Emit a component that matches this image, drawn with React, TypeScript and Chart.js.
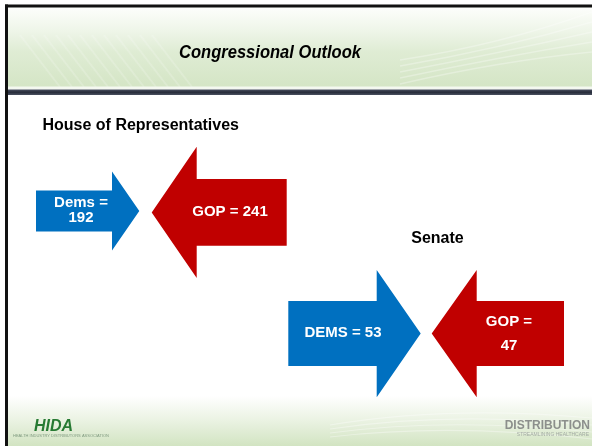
import React, { useEffect, useRef } from "react";
import { Chart, registerables } from "chart.js";

Chart.register(...registerables);

// ---- data ----
const chambers = ["House of Representatives", "Senate"];
const parties = ["Dems", "GOP", "DEMS", "GOP"];
const seats = [192, 241, 53, 47];
const chamberOfArrow = [0, 0, 1, 1];
const slideTitle = "Congressional Outlook";

// ---- layout (slide units) ----
const W = 592;
const H = 446;
const ARROW_LAYOUT = [
  { tipX: 139.3, tipY: 211, dir: 1, headLen: 27.3, bodyLen: 76, bodyH: 41, headH: 79, textX: 81, textY: 203, wrap: true, gap: 15 },
  { tipX: 151.7, tipY: 212.4, dir: -1, headLen: 45, bodyLen: 90, bodyH: 66.7, headH: 131.3, textX: 230, textY: 211.7, wrap: false, gap: 0 },
  { tipX: 420.7, tipY: 333.6, dir: 1, headLen: 44, bodyLen: 88.4, bodyH: 65, headH: 127.3, textX: 343, textY: 333.3, wrap: false, gap: 0 },
  { tipX: 431.7, tipY: 333.6, dir: -1, headLen: 45, bodyLen: 87.3, bodyH: 65, headH: 127.3, textX: 509, textY: 321.7, wrap: true, gap: 24.3 },
];
const CHAMBER_LAYOUT = [
  { x: 42.5, y: 130.3, align: "left" },
  { x: 437.5, y: 242.8, align: "center" },
];
const PARTY_COLORS = ["#0070C0", "#C00000", "#0070C0", "#C00000"];
const FONT = "'Liberation Sans', Arial, sans-serif";

const slidePlugin = {
  id: "slide",
  beforeDraw(chart: any) {
    const ctx = chart.ctx;
    const xs = chart.scales.x;
    const ys = chart.scales.y;
    const X = (v: number) => xs.getPixelForValue(v);
    const Y = (v: number) => ys.getPixelForValue(v);
    ctx.save();
    ctx.fillStyle = "#ffffff";
    ctx.fillRect(0, 0, chart.width, chart.height);

    // header band
    const hg = ctx.createLinearGradient(0, Y(7), 0, Y(88));
    hg.addColorStop(0, "#fdfefc");
    hg.addColorStop(0.3, "#eef5e8");
    hg.addColorStop(0.55, "#dfecd4");
    hg.addColorStop(1, "#d4e5c5");
    ctx.fillStyle = hg;
    ctx.fillRect(X(8), Y(7), X(W) - X(8), Y(87) - Y(7));
    // faint streaks
    ctx.strokeStyle = "rgba(255,255,255,0.18)";
    ctx.lineWidth = 2;
    for (let i = 0; i < 12; i++) {
      ctx.beginPath();
      ctx.moveTo(X(20 + i * 12), Y(35));
      ctx.lineTo(X(60 + i * 12), Y(87));
      ctx.stroke();
    }
    ctx.strokeStyle = "rgba(255,255,255,0.3)";
    ctx.lineWidth = 1.5;
    for (let i = 0; i < 5; i++) {
      ctx.beginPath();
      ctx.moveTo(X(400), Y(60 + i * 6));
      ctx.quadraticCurveTo(X(500), Y(45 + i * 4), X(W), Y(12 + i * 10));
      ctx.stroke();
    }
    ctx.fillStyle = "#f4f8f0";
    ctx.fillRect(X(8), Y(86.5), X(W) - X(8), Y(89.5) - Y(86.5));
    const dg = ctx.createLinearGradient(0, Y(89.5), 0, Y(95));
    dg.addColorStop(0, "#4a5060");
    dg.addColorStop(0.5, "#262b3a");
    dg.addColorStop(1, "#4a5060");
    ctx.fillStyle = dg;
    ctx.fillRect(X(5), Y(89.5), X(W) - X(5), Y(95) - Y(89.5));

    // footer band
    const fg = ctx.createLinearGradient(0, Y(396), 0, Y(H));
    fg.addColorStop(0, "#ffffff");
    fg.addColorStop(0.5, "#eaf2e2");
    fg.addColorStop(1, "#d2e4c2");
    ctx.fillStyle = fg;
    ctx.fillRect(X(8), Y(396), X(W) - X(8), Y(H) - Y(396));
    ctx.strokeStyle = "rgba(255,255,255,0.35)";
    ctx.lineWidth = 1.2;
    for (let i = 0; i < 4; i++) {
      ctx.beginPath();
      ctx.moveTo(X(330), Y(425 + i * 4));
      ctx.quadraticCurveTo(X(450), Y(405 + i * 6), X(W), Y(418 + i * 7));
      ctx.stroke();
    }

    // frame
    ctx.fillStyle = "#111111";
    ctx.fillRect(X(5), Y(4.5), X(W) - X(5), Y(7.5) - Y(4.5));
    ctx.fillRect(X(5), Y(4.5), X(8) - X(5), Y(H) - Y(4.5));

    // slide title
    ctx.fillStyle = "#000000";
    ctx.font = `bold italic 18px ${FONT}`;
    ctx.textBaseline = "alphabetic";
    ctx.textAlign = "center";
    const tw = ctx.measureText(slideTitle).width;
    const sx = 182 / tw;
    ctx.save();
    ctx.translate(X(270), Y(58));
    ctx.scale(sx, 1);
    ctx.fillText(slideTitle, 0, 0);
    ctx.restore();

    // footer logos
    ctx.fillStyle = "#277a33";
    ctx.font = `bold italic 16px ${FONT}`;
    ctx.textAlign = "left";
    ctx.fillText("HIDA", X(34), Y(431));
    ctx.fillStyle = "#7f9a7f";
    ctx.font = `4px ${FONT}`;
    ctx.fillText("HEALTH INDUSTRY DISTRIBUTORS ASSOCIATION", X(13), Y(437));
    ctx.fillStyle = "#8c8f8c";
    ctx.font = `bold 12px ${FONT}`;
    ctx.textAlign = "right";
    ctx.fillText("DISTRIBUTION", X(590), Y(429));
    ctx.fillStyle = "#a4aba4";
    ctx.font = `5px ${FONT}`;
    ctx.fillText("STREAMLINING HEALTHCARE", X(589), Y(436));
    ctx.restore();
  },
  afterDatasetsDraw(chart: any) {
    const ctx = chart.ctx;
    const xs = chart.scales.x;
    const ys = chart.scales.y;
    const ux = Math.abs(xs.getPixelForValue(1) - xs.getPixelForValue(0));
    const uy = Math.abs(ys.getPixelForValue(1) - ys.getPixelForValue(0));
    const meta = chart.getDatasetMeta(0);
    ctx.save();
    // chamber headings
    ctx.fillStyle = "#000000";
    ctx.font = `bold 16px ${FONT}`;
    ctx.textBaseline = "alphabetic";
    chambers.forEach((c, i) => {
      const L = CHAMBER_LAYOUT[i];
      ctx.textAlign = L.align;
      ctx.fillText(c, xs.getPixelForValue(L.x), ys.getPixelForValue(L.y));
    });
    meta.data.forEach((pt: any, i: number) => {
      const a = ARROW_LAYOUT[i];
      const tx = pt.x;
      const ty = pt.y;
      const d = a.dir;
      const hb = tx - d * a.headLen * ux;
      const bs = hb - d * a.bodyLen * ux;
      const bh = (a.bodyH / 2) * uy;
      const hh = (a.headH / 2) * uy;
      ctx.beginPath();
      ctx.moveTo(bs, ty - bh);
      ctx.lineTo(hb, ty - bh);
      ctx.lineTo(hb, ty - hh);
      ctx.lineTo(tx, ty);
      ctx.lineTo(hb, ty + hh);
      ctx.lineTo(hb, ty + bh);
      ctx.lineTo(bs, ty + bh);
      ctx.closePath();
      ctx.fillStyle = PARTY_COLORS[i];
      ctx.fill();

      const raw = chart.data.datasets[0].data[i];
      const first = `${parties[i]} =`;
      const second = `${raw.v}`;
      const lines = a.wrap ? [first, second] : [`${first} ${second}`];
      ctx.fillStyle = "#ffffff";
      ctx.font = `bold 15px ${FONT}`;
      ctx.textAlign = "center";
      ctx.textBaseline = "middle";
      lines.forEach((ln, k) => {
        ctx.fillText(ln, xs.getPixelForValue(a.textX), ys.getPixelForValue(a.textY + k * a.gap));
      });
    });
    ctx.restore();
  },
};

export default function App() {
  const ref = useRef<HTMLCanvasElement | null>(null);
  useEffect(() => {
    if (!ref.current) return;
    const chart = new Chart(ref.current, {
      type: "scatter",
      data: {
        datasets: [
          {
            label: "Seats",
            data: ARROW_LAYOUT.map((a, i) => ({ x: a.tipX, y: a.tipY, v: seats[i], chamber: chambers[chamberOfArrow[i]] })),
            pointRadius: 0,
            pointHoverRadius: 0,
          },
        ],
      },
      options: {
        animation: false,
        responsive: false,
        devicePixelRatio: 1,
        layout: { padding: 0 },
        events: [],
        plugins: { legend: { display: false }, tooltip: { enabled: false }, title: { display: false } },
        scales: {
          x: { type: "linear", min: 0, max: W, display: false },
          y: { type: "linear", min: 0, max: H, reverse: true, display: false },
        },
      },
      plugins: [slidePlugin],
    });
    return () => chart.destroy();
  }, []);
  return (
    <div style={{ position: "fixed", left: 0, top: 0, width: W, height: H, background: "#fff" }}>
      <canvas ref={ref} width={W} height={H} style={{ display: "block", width: W, height: H }} />
    </div>
  );
}
